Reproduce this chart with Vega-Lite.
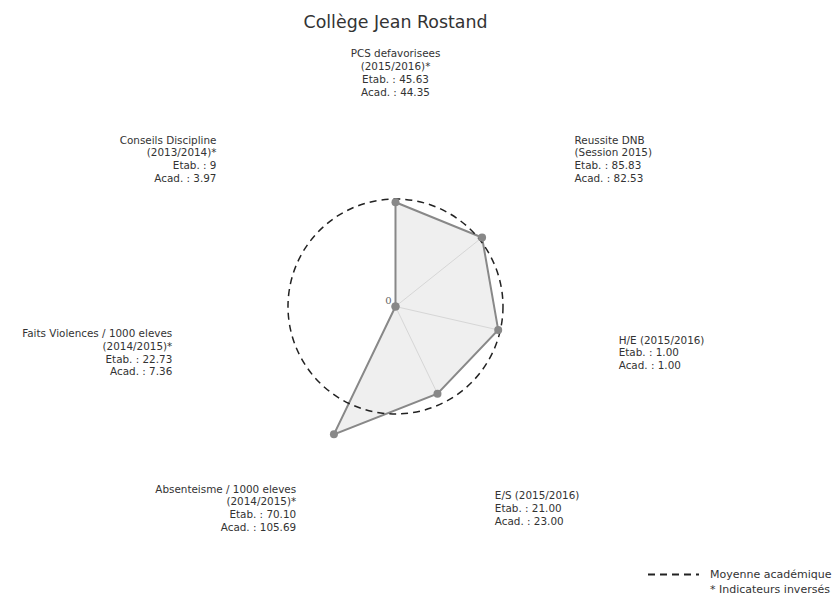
{
  "$schema": "https://vega.github.io/schema/vega-lite/v6.json",
  "autosize": "none",
  "padding": 0,
  "width": 837,
  "height": 610,
  "background": "white",
  "config": {"view": {"stroke": null}},
  "title": {"text": "Collège Jean Rostand", "font": "DejaVu Sans", "fontSize": 17.4, "fontWeight": "normal", "color": "#333333", "anchor": "middle", "dx": -23, "offset": -45, "baseline": "alphabetic"},
  "datasets": {
    "axes": [
      {"i": 0, "r": 0.97, "lines": ["PCS defavorisees", "(2015/2016)*", "Etab. : 45.63", "Acad. : 44.35"]},
      {"i": 1, "r": 1.03, "lines": ["Reussite DNB", "(Session 2015)", "Etab. : 85.83", "Acad. : 82.53"]},
      {"i": 2, "r": 0.98, "lines": ["H/E (2015/2016)", "Etab. : 1.00", "Acad. : 1.00"]},
      {"i": 3, "r": 0.9, "lines": ["E/S (2015/2016)", "Etab. : 21.00", "Acad. : 23.00"]},
      {"i": 4, "r": 1.32, "lines": ["Absenteisme / 1000 eleves", "(2014/2015)*", "Etab. : 70.10", "Acad. : 105.69"]},
      {"i": 5, "r": 0, "lines": ["Faits Violences / 1000 eleves", "(2014/2015)*", "Etab. : 22.73", "Acad. : 7.36"]},
      {"i": 6, "r": 0, "lines": ["Conseils Discipline", "(2013/2014)*", "Etab. : 9", "Acad. : 3.97"]}
    ],
    "avg": [{"serie": "Moyenne académique", "r": 1}],
    "zero": [{"t": "0"}]
  },
  "layer": [
    {
      "data": {"name": "axes"},
      "transform": [
        {"calculate": "datum.i * 2 * PI / 7", "as": "theta"},
        {"calculate": "datum.r * sin(datum.theta)", "as": "x"},
        {"calculate": "datum.r * cos(datum.theta)", "as": "y"}
      ],
      "mark": {"type": "line", "interpolate": "linear-closed", "fill": "#efefef", "strokeWidth": 0},
      "encoding": {
        "x": {"field": "x", "type": "quantitative", "scale": {"domain": [-3.679, 4.107], "nice": false, "zero": false}, "axis": null},
        "y": {"field": "y", "type": "quantitative", "scale": {"domain": [-2.823, 2.851], "nice": false, "zero": false}, "axis": null},
        "order": {"field": "i", "type": "quantitative"}
      }
    },
    {
      "data": {"name": "axes"},
      "transform": [
        {"calculate": "datum.i * 2 * PI / 7", "as": "theta"},
        {"calculate": "datum.r * sin(datum.theta)", "as": "x"},
        {"calculate": "datum.r * cos(datum.theta)", "as": "y"},
        {"calculate": "0", "as": "x0"}
      ],
      "mark": {"type": "rule", "color": "#d6d6d6", "strokeWidth": 1},
      "encoding": {
        "x": {"field": "x0", "type": "quantitative"},
        "y": {"field": "x0", "type": "quantitative"},
        "x2": {"field": "x"},
        "y2": {"field": "y"}
      }
    },
    {
      "data": {"name": "axes"},
      "transform": [
        {"calculate": "datum.i * 2 * PI / 7", "as": "theta"},
        {"calculate": "datum.r * sin(datum.theta)", "as": "x"},
        {"calculate": "datum.r * cos(datum.theta)", "as": "y"}
      ],
      "mark": {"type": "line", "interpolate": "linear-closed", "stroke": "#888888", "strokeWidth": 2},
      "encoding": {
        "x": {"field": "x", "type": "quantitative"},
        "y": {"field": "y", "type": "quantitative"},
        "order": {"field": "i", "type": "quantitative"}
      }
    },
    {
      "data": {"name": "avg"},
      "transform": [{"calculate": "0", "as": "c"}],
      "mark": {"type": "point", "shape": "circle", "filled": false, "size": 46225, "stroke": "#222222", "strokeWidth": 1.5, "opacity": 1},
      "encoding": {
        "x": {"field": "c", "type": "quantitative"},
        "y": {"field": "c", "type": "quantitative"},
        "strokeDash": {
          "field": "serie", "type": "nominal",
          "scale": {"domain": ["Moyenne académique", "* Indicateurs inversés"], "range": [[7, 5], [0, 100]]},
          "legend": {
            "title": null, "orient": "none", "legendX": 664, "legendY": 565,
            "symbolType": "M-3,0H3", "symbolSize": 289, "symbolStrokeWidth": 2, "symbolStrokeColor": "#222222",
            "labelFont": "DejaVu Sans", "labelFontSize": 11, "labelColor": "#333333", "labelOffset": 27, "rowPadding": -1
          }
        }
      }
    },
    {
      "data": {"name": "axes"},
      "transform": [
        {"calculate": "datum.i * 2 * PI / 7", "as": "theta"},
        {"calculate": "datum.r * sin(datum.theta)", "as": "x"},
        {"calculate": "datum.r * cos(datum.theta)", "as": "y"}
      ],
      "mark": {"type": "point", "shape": "circle", "filled": true, "size": 64, "color": "#888888", "opacity": 1},
      "encoding": {
        "x": {"field": "x", "type": "quantitative"},
        "y": {"field": "y", "type": "quantitative"}
      }
    },
    {
      "data": {"name": "zero"},
      "transform": [{"calculate": "0", "as": "c"}],
      "mark": {"type": "text", "font": "DejaVu Serif", "fontSize": 10, "color": "#666666", "dx": -7, "dy": -6},
      "encoding": {
        "x": {"field": "c", "type": "quantitative"},
        "y": {"field": "c", "type": "quantitative"},
        "text": {"field": "t"}
      }
    },
    {
      "data": {"name": "axes"},
      "transform": [
        {"calculate": "datum.i * 2 * PI / 7", "as": "theta"},
        {"filter": "abs(sin(datum.theta)) <= 0.1"},
        {"calculate": "2.13 * sin(datum.theta)", "as": "lx"},
        {"calculate": "2.13 * cos(datum.theta) + (length(datum.lines) - 1) * 0.0591", "as": "ly"}
      ],
      "mark": {"type": "text", "font": "DejaVu Sans", "fontSize": 10.4, "color": "#333333", "align": "center", "baseline": "middle", "lineHeight": 12.7, "dy": -4},
      "encoding": {
        "x": {"field": "lx", "type": "quantitative"},
        "y": {"field": "ly", "type": "quantitative"},
        "text": {"field": "lines"}
      }
    },
    {
      "data": {"name": "axes"},
      "transform": [
        {"calculate": "datum.i * 2 * PI / 7", "as": "theta"},
        {"filter": "sin(datum.theta) > 0.1"},
        {"calculate": "2.13 * sin(datum.theta)", "as": "lx"},
        {"calculate": "2.13 * cos(datum.theta) + (length(datum.lines) - 1) * 0.0591", "as": "ly"}
      ],
      "mark": {"type": "text", "font": "DejaVu Sans", "fontSize": 10.4, "color": "#333333", "align": "left", "baseline": "middle", "lineHeight": 12.7, "dy": -4},
      "encoding": {
        "x": {"field": "lx", "type": "quantitative"},
        "y": {"field": "ly", "type": "quantitative"},
        "text": {"field": "lines"}
      }
    },
    {
      "data": {"name": "axes"},
      "transform": [
        {"calculate": "datum.i * 2 * PI / 7", "as": "theta"},
        {"filter": "sin(datum.theta) < -0.1"},
        {"calculate": "2.13 * sin(datum.theta)", "as": "lx"},
        {"calculate": "2.13 * cos(datum.theta) + (length(datum.lines) - 1) * 0.0591", "as": "ly"}
      ],
      "mark": {"type": "text", "font": "DejaVu Sans", "fontSize": 10.4, "color": "#333333", "align": "right", "baseline": "middle", "lineHeight": 12.7, "dy": -4},
      "encoding": {
        "x": {"field": "lx", "type": "quantitative"},
        "y": {"field": "ly", "type": "quantitative"},
        "text": {"field": "lines"}
      }
    }
  ]
}
